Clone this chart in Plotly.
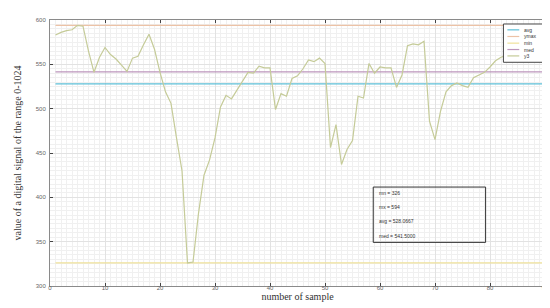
import plotly.graph_objects as go

# ---- data ----
samples = list(range(1, 91))
y3 = [583, 586, 588, 589, 594, 593, 565, 541, 558, 569,
      561, 556, 549, 542, 557, 559, 572, 584, 567, 541,
      519, 506, 467, 430, 326, 327, 382, 425, 442, 467,
      502, 515, 511, 521, 532, 541, 540, 548, 546, 546,
      499, 517, 514, 534, 537, 545, 555, 553, 557, 551,
      456, 482, 437, 454, 464, 514, 512, 551, 540, 547,
      546, 546, 524, 538, 571, 573, 572, 576, 486, 465,
      497, 519, 526, 529, 526, 524, 535, 538, 541, 547,
      554, 558, 560, 562, 565, 567, 569, 570, 571, 572]
avg_val = 528.0667
ymax_val = 594
min_val = 326
med_val = 541.5
line_x = [1, 90]
stats_labels = ["mn = 326", "mx = 594", "avg = 528.0667", "med = 541.5000"]
legend_names = ["avg", "ymax", "min", "med", "y3"]

colors = {"avg": "#5EC0D8", "ymax": "#ECC2A6", "min": "#EFE29A",
          "med": "#BC96BC", "y3": "#C5CB98"}

fig = go.Figure()
for name, val in [("avg", avg_val), ("ymax", ymax_val), ("min", min_val), ("med", med_val)]:
    fig.add_trace(go.Scatter(x=line_x, y=[val] * 2, mode="lines", name=name,
                             line=dict(color=colors[name], width=1.2)))
fig.add_trace(go.Scatter(x=samples, y=y3, mode="lines", name="y3",
                         line=dict(color=colors["y3"], width=1.2)))

axis_common = dict(
    showline=True, linecolor="#8a8a8a", linewidth=1, mirror="ticks",
    ticks="inside", ticklen=3, tickcolor="#444", tickwidth=1,
    tickfont=dict(family="Liberation Sans", size=6, color="#666"),
    showgrid=True, gridcolor="#e2e2e2", gridwidth=1, zeroline=False,
)

fig.update_xaxes(range=[0, 90], dtick=10, tick0=0,
                 minor=dict(dtick=1, showgrid=True, gridcolor="#f0f0f0"),
                 ticklabelstandoff=-4,
                 title=dict(text="number of sample", standoff=2,
                            font=dict(family="Liberation Serif", size=10, color="#333")),
                 **axis_common)
fig.update_yaxes(range=[300, 600], dtick=50, tick0=300,
                 minor=dict(dtick=5, showgrid=True, gridcolor="#f0f0f0"),
                 ticklabelstandoff=2,
                 title=dict(text="value of a digital signal of the range 0-1024", standoff=12,
                            font=dict(family="Liberation Serif", size=10, color="#333")),
                 **axis_common)

# stats text box
fig.add_shape(type="rect", xref="paper", yref="paper",
              x0=0.653, x1=0.880, y0=0.164, y1=0.372,
              line=dict(color="#333", width=1), fillcolor="rgba(255,255,255,0)")
ys = [0.350, 0.297, 0.243, 0.189]
for lab, yy in zip(stats_labels, ys):
    fig.add_annotation(xref="paper", yref="paper", x=0.660, y=yy, text=lab,
                       showarrow=False, xanchor="left", yanchor="middle",
                       font=dict(family="Liberation Sans", size=5, color="#333"))

# compact legend box (drawn manually to match the small MATLAB legend)
fig.add_shape(type="rect", xref="paper", yref="paper", layer="above",
              x0=0.916, x1=0.999, y0=0.841, y1=0.985,
              line=dict(color="#444", width=1), fillcolor="white")
leg_y = [0.963, 0.938, 0.913, 0.889, 0.865]
for name, yy in zip(legend_names, leg_y):
    fig.add_shape(type="line", xref="paper", yref="paper", layer="above",
                  x0=0.924, x1=0.948, y0=yy, y1=yy,
                  line=dict(color=colors[name], width=1.2))
    fig.add_annotation(xref="paper", yref="paper", x=0.953, y=yy, text=name,
                       showarrow=False, xanchor="left", yanchor="middle",
                       font=dict(family="Liberation Sans", size=5, color="#333"))

fig.update_layout(
    width=550, height=308,
    margin=dict(l=40, r=9, t=9, b=30),
    paper_bgcolor="white", plot_bgcolor="white",
    showlegend=False,
)

fig.write_html("out.html")
